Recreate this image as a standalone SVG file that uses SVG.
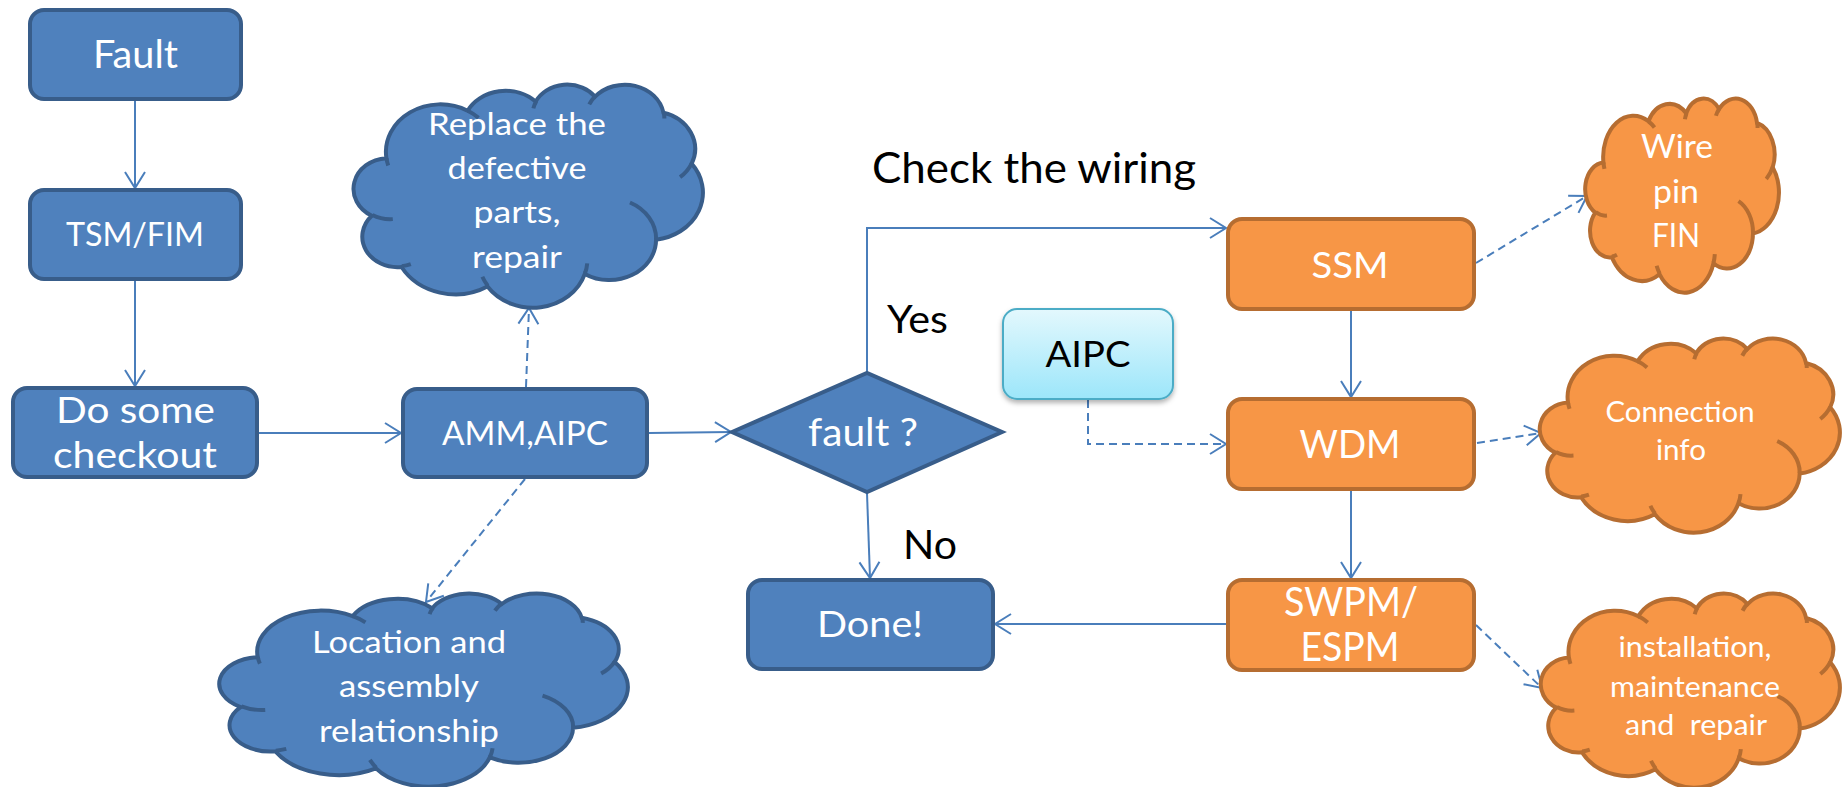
<svg xmlns="http://www.w3.org/2000/svg" xmlns:xlink="http://www.w3.org/1999/xlink" width="1842" height="787" viewBox="0 0 1842 787">
  <style>
    text { font-family: Lato, "Open Sans", "Liberation Sans", sans-serif; text-anchor: middle; }
    .lbl-w { fill: #ffffff; }
    .lbl-k { fill: #000000; }
    .box-blue { fill: #4f81bd; stroke: #385d8a; stroke-width: 4; }
    .box-orange { fill: #f79646; stroke: #b66d31; stroke-width: 4; }
    .cloud-blue { fill: #4f81bd; stroke: #385d8a; stroke-width: 4; }
    .cloud-orange { fill: #f79646; stroke: #b66d31; stroke-width: 4; }
    .seam-blue { fill: none; stroke: #385d8a; stroke-width: 4; }
    .seam-orange { fill: none; stroke: #b66d31; stroke-width: 4; }
    .aipc { fill: url(#aipcFill); stroke: #4bacc6; stroke-width: 2; filter: url(#softShadow); }
    .conn { fill: none; stroke: #4a7ebb; stroke-width: 2; marker-end: url(#arrow); }
    .dash { stroke-dasharray: 8 5; }
  </style>
  <defs>
    <linearGradient id="aipcFill" x1="0" y1="0" x2="0" y2="1">
      <stop offset="0" stop-color="#e3f8fd"/>
      <stop offset="1" stop-color="#9ce6fa"/>
    </linearGradient>
    <filter id="softShadow" x="-10%" y="-10%" width="120%" height="130%">
      <feDropShadow dx="0" dy="3" stdDeviation="2.5" flood-color="#000000" flood-opacity="0.3"/>
    </filter>
    <marker id="arrow" markerUnits="userSpaceOnUse" viewBox="-19 -12 21 24" refX="0" refY="0" markerWidth="21" markerHeight="24" orient="auto">
      <path d="M-16 -10 L0 0 L-16 10" fill="none" stroke="#4a7ebb" stroke-width="2"/>
    </marker>
    <!-- cloud outline in a 432 x 432 box -->
    <path id="cloud" vector-effect="non-scaling-stroke" d="M39 143.7 A67.53 91.9 0 0 1 139.75 51.79 A53.33 72.67 0 0 1 224.26 34.09 A43.65 59.45 0 0 1 298.02 24.56 A48.57 65.95 0 0 1 382.86 55.53 A53.33 72.73 0 0 1 417.86 154.37 A67.75 92.2 0 0 1 373.72 301.8 A57.85 78.67 0 0 1 285.24 367.91 A67.52 92.15 0 0 1 164.5 392.44 A77.2 105.43 0 0 1 57.74 354.48 A43.6 59.18 0 0 1 20.82 255.26 A43.45 59.45 0 0 1 39 143.7 Z"/>
    <!-- inner creases between the cloud lobes -->
    <path id="cloudSeams" vector-effect="non-scaling-stroke" d="M46.93 261.77 A43.45 59.45 0 0 1 21.61 253.8 M69.28 348.99 A43.6 59.18 0 0 1 58.19 352.81 M164.78 390.9 A67.52 92.15 0 0 1 158.09 373.48 M288.27 347.51 A67.52 92.15 0 0 1 285.6 366.61 M341.29 229.54 A57.85 78.67 0 0 1 373.81 300.9 M417.98 153.54 A53.33 72.73 0 0 1 403.49 180.31 M383.24 54.26 A48.57 65.95 0 0 1 384 66.9 M290.78 39.52 A48.57 65.95 0 0 1 298.21 23.38 M221.41 47.2 A43.65 59.45 0 0 1 225 33.3 M140 51.92 A67.53 91.9 0 0 1 153.3 65.65 M41.27 157.89 A67.53 91.9 0 0 1 39.01 143.71"/>
  </defs>

  <rect width="1842" height="787" fill="#ffffff"/>

  <!-- connectors -->
  <g id="connectors">
    <path class="conn" d="M135 101 L135 188"/>
    <path class="conn" d="M135 281 L135 386"/>
    <path class="conn" d="M259 433 L401 433"/>
    <path class="conn" d="M649 433 L731 432"/>
    <path class="conn" d="M867 372 L867 228 L1226 228"/>
    <path class="conn" d="M867 493 L870 578"/>
    <path class="conn" d="M1351 311 L1351 397"/>
    <path class="conn" d="M1351 491 L1351 578"/>
    <path class="conn" d="M1226 624 L995 624"/>
    <path class="conn dash" d="M526 387 L529 308"/>
    <path class="conn dash" d="M525 479 L426 602"/>
    <path class="conn dash" d="M1088 400 L1088 444 L1226 444"/>
    <path class="conn dash" d="M1476 263 L1587 196"/>
    <path class="conn dash" d="M1477 443 L1541 433"/>
    <path class="conn dash" d="M1476 625 L1542 688"/>
  </g>

  <!-- main flow -->
  <g id="fault">
    <rect class="box-blue" x="30" y="10" width="211" height="89" rx="14"/>
    <text class="lbl-w" x="135.5" y="68" font-size="39" textLength="85" lengthAdjust="spacingAndGlyphs">Fault</text>
  </g>
  <g id="tsm-fim">
    <rect class="box-blue" x="30" y="190" width="211" height="89" rx="14"/>
    <text class="lbl-w" x="135" y="246" font-size="32" textLength="138" lengthAdjust="spacingAndGlyphs">TSM/FIM</text>
  </g>
  <g id="checkout">
    <rect class="box-blue" x="13" y="388" width="244" height="89" rx="14"/>
    <text class="lbl-w" x="135.5" y="423" font-size="36" textLength="159" lengthAdjust="spacingAndGlyphs">Do some</text>
    <text class="lbl-w" x="135" y="468" font-size="36" textLength="164" lengthAdjust="spacingAndGlyphs">checkout</text>
  </g>
  <g id="amm-aipc">
    <rect class="box-blue" x="403" y="389" width="244" height="88" rx="14"/>
    <text class="lbl-w" x="525" y="445" font-size="32" textLength="166" lengthAdjust="spacingAndGlyphs">AMM,AIPC</text>
  </g>
  <g id="decision">
    <polygon class="box-blue" points="732,432 867,373 1002,432 867,492"/>
    <text class="lbl-w" x="863" y="446" font-size="38" textLength="110" lengthAdjust="spacingAndGlyphs">fault ?</text>
  </g>
  <g id="done">
    <rect class="box-blue" x="748" y="580" width="245" height="89" rx="14"/>
    <text class="lbl-w" x="870" y="637" font-size="37" textLength="106" lengthAdjust="spacingAndGlyphs">Done!</text>
  </g>

  <!-- wiring branch -->
  <g id="ssm">
    <rect class="box-orange" x="1228" y="219" width="246" height="90" rx="14"/>
    <text class="lbl-w" x="1350" y="278" font-size="37" textLength="77" lengthAdjust="spacingAndGlyphs">SSM</text>
  </g>
  <g id="wdm">
    <rect class="box-orange" x="1228" y="399" width="246" height="90" rx="14"/>
    <text class="lbl-w" x="1350" y="458" font-size="39" textLength="101" lengthAdjust="spacingAndGlyphs">WDM</text>
  </g>
  <g id="swpm-espm">
    <rect class="box-orange" x="1228" y="580" width="246" height="90" rx="14"/>
    <text class="lbl-w" x="1351" y="616" font-size="40" textLength="134" lengthAdjust="spacingAndGlyphs">SWPM/</text>
    <text class="lbl-w" x="1350" y="661" font-size="40" textLength="99" lengthAdjust="spacingAndGlyphs">ESPM</text>
  </g>
  <g id="aipc">
    <rect class="aipc" x="1003" y="309" width="170" height="90" rx="14"/>
    <text class="lbl-k" x="1088" y="367" font-size="37" textLength="85" lengthAdjust="spacingAndGlyphs">AIPC</text>
  </g>

  <!-- notes -->
  <g id="note-replace">
    <use xlink:href="#cloud" class="cloud-blue" transform="translate(355 84) scale(0.8056 0.5162)"/>
    <use xlink:href="#cloudSeams" class="seam-blue" transform="translate(355 84) scale(0.8056 0.5162)"/>
    <text class="lbl-w" x="517" y="135" font-size="30" textLength="178" lengthAdjust="spacingAndGlyphs">Replace the</text>
    <text class="lbl-w" x="517" y="179" font-size="30" textLength="139" lengthAdjust="spacingAndGlyphs">defective</text>
    <text class="lbl-w" x="517" y="223" font-size="30" textLength="87" lengthAdjust="spacingAndGlyphs">parts,</text>
    <text class="lbl-w" x="517" y="268" font-size="30" textLength="90" lengthAdjust="spacingAndGlyphs">repair</text>
  </g>
  <g id="note-location">
    <use xlink:href="#cloud" class="cloud-blue" transform="translate(221 593) scale(0.9421 0.4468)"/>
    <use xlink:href="#cloudSeams" class="seam-blue" transform="translate(221 593) scale(0.9421 0.4468)"/>
    <text class="lbl-w" x="409" y="653" font-size="30" textLength="194" lengthAdjust="spacingAndGlyphs">Location and</text>
    <text class="lbl-w" x="409" y="697" font-size="30" textLength="140" lengthAdjust="spacingAndGlyphs">assembly</text>
    <text class="lbl-w" x="409" y="742" font-size="30" textLength="180" lengthAdjust="spacingAndGlyphs">relationship</text>
  </g>
  <g id="note-wire">
    <use xlink:href="#cloud" class="cloud-orange" transform="translate(1586 98) scale(0.4468 0.4491)"/>
    <use xlink:href="#cloudSeams" class="seam-orange" transform="translate(1586 98) scale(0.4468 0.4491)"/>
    <text class="lbl-w" x="1677" y="158" font-size="32" textLength="72" lengthAdjust="spacingAndGlyphs">Wire</text>
    <text class="lbl-w" x="1676" y="203" font-size="32" textLength="46" lengthAdjust="spacingAndGlyphs">pin</text>
    <text class="lbl-w" x="1676" y="247" font-size="32" textLength="48" lengthAdjust="spacingAndGlyphs">FIN</text>
  </g>
  <g id="note-connection">
    <use xlink:href="#cloud" class="cloud-orange" transform="translate(1541 338) scale(0.6921 0.4491)"/>
    <use xlink:href="#cloudSeams" class="seam-orange" transform="translate(1541 338) scale(0.6921 0.4491)"/>
    <text class="lbl-w" x="1680" y="422" font-size="28" textLength="149" lengthAdjust="spacingAndGlyphs">Connection</text>
    <text class="lbl-w" x="1681" y="460" font-size="28" textLength="50" lengthAdjust="spacingAndGlyphs">info</text>
  </g>
  <g id="note-installation">
    <use xlink:href="#cloud" class="cloud-orange" transform="translate(1542 593) scale(0.6898 0.4491)"/>
    <use xlink:href="#cloudSeams" class="seam-orange" transform="translate(1542 593) scale(0.6898 0.4491)"/>
    <text class="lbl-w" x="1695" y="657" font-size="28" textLength="153" lengthAdjust="spacingAndGlyphs">installation,</text>
    <text class="lbl-w" x="1695" y="697" font-size="28" textLength="170" lengthAdjust="spacingAndGlyphs">maintenance</text>
    <text class="lbl-w" x="1696" y="735" font-size="28" textLength="142" lengthAdjust="spacingAndGlyphs" xml:space="preserve">and  repair</text>
  </g>

  <!-- branch labels -->
  <g id="labels">
    <text class="lbl-k" x="1034" y="183" font-size="42" textLength="324" lengthAdjust="spacingAndGlyphs">Check the wiring</text>
    <text class="lbl-k" x="917.5" y="333" font-size="39" textLength="61" lengthAdjust="spacingAndGlyphs">Yes</text>
    <text class="lbl-k" x="930" y="559" font-size="40" textLength="54" lengthAdjust="spacingAndGlyphs">No</text>
  </g>
</svg>
